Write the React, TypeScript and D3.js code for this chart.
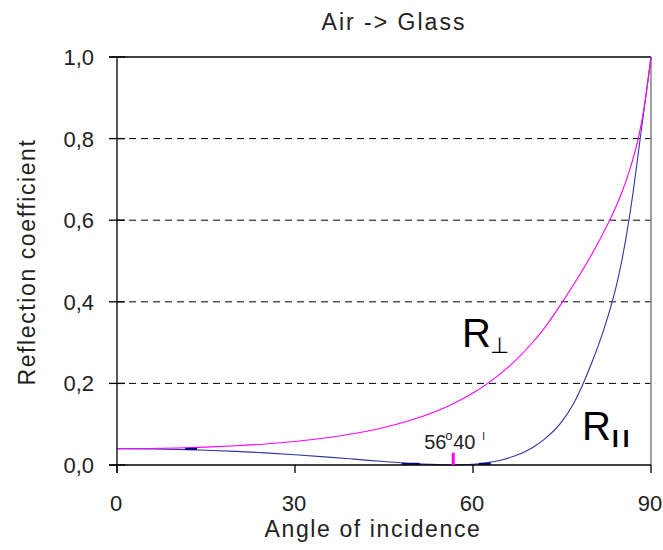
import React from "react";
import * as d3 from "d3";

const angles = [0, 5, 10, 15, 20, 25, 30, 35, 40, 45, 50, 55, 56.3, 60, 62, 65, 67, 70, 72, 75, 77, 80, 82, 84, 85, 86, 87, 88, 89, 90];
const rPerp = [0.04, 0.0404, 0.0417, 0.0438, 0.0471, 0.0516, 0.0577, 0.0661, 0.0772, 0.092, 0.1121, 0.1393, 0.1479, 0.1766, 0.1952, 0.2281, 0.2539, 0.2996, 0.335, 0.398, 0.443, 0.516, 0.57, 0.63, 0.665, 0.705, 0.752, 0.81, 0.89, 1.0];
const rPar = [0.04, 0.0396, 0.0384, 0.0363, 0.0335, 0.0298, 0.0252, 0.02, 0.0143, 0.0085, 0.0033, 0.0002, 0, 0.0018, 0.0047, 0.013, 0.0219, 0.0425, 0.0627, 0.107, 0.152, 0.25, 0.33, 0.43, 0.495, 0.575, 0.67, 0.78, 0.89, 1.0];
const xTicks = [0, 30, 60, 90];
const yTicks = [0, 0.2, 0.4, 0.6, 0.8, 1.0];
const gridTicks = [0.2, 0.4, 0.6, 0.8];
const brewster = 56 + 40 / 60;
const brewsterMark = 0.03;

const W = 663;
const H = 550;
const font = "'Liberation Sans', Arial, sans-serif";
const txt = "#222";

export default function App() {
  const x = d3.scaleLinear().domain([0, 90]).range([117, 651]);
  const y = d3.scaleLinear().domain([0, 1]).range([465, 57]);
  const perpPts: [number, number][] = angles.map((a, i) => [a, rPerp[i]]);
  const parPts: [number, number][] = angles.map((a, i) => [a, rPar[i]]);
  const line = d3
    .line<[number, number]>()
    .x((d) => x(d[0]))
    .y((d) => y(d[1]))
    .curve(d3.curveMonotoneX);
  const fmt = (v: number) => v.toFixed(1).replace(".", ",");
  const bx = x(brewster);

  return (
    <div style={{ position: "absolute", left: 0, top: 0 }}>
      <svg width={W} height={H} style={{ display: "block", background: "#fff" }}>
        {/* grid */}
        {gridTicks.map((t) => (
          <line key={t} x1={x(0)} x2={x(90)} y1={y(t)} y2={y(t)} stroke="#000" strokeWidth={1} strokeDasharray="7,5" />
        ))}
        {/* top border */}
        <line x1={x(0) - 8} x2={x(90)} y1={y(1)} y2={y(1)} stroke="#000" strokeWidth={1.3} />
        {/* right border */}
        <line x1={x(90)} x2={x(90)} y1={y(1)} y2={y(0)} stroke="#888" strokeWidth={1.6} />
        {/* curves */}
        <path d={line(parPts) || ""} fill="none" stroke="#3434a4" strokeWidth={1.1} />
        <path d={line(perpPts) || ""} fill="none" stroke="#ff00ff" strokeWidth={1.1} />
        {/* dark overlap segments near zero */}
        <line x1={x(48)} x2={x(51)} y1={y(0.003)} y2={y(0.003)} stroke="#000080" strokeWidth={2} />
        <line x1={x(61)} x2={x(63)} y1={y(0.003)} y2={y(0.003)} stroke="#000080" strokeWidth={2} />
        <line x1={x(11.5)} x2={x(13.5)} y1={y(0.0395)} y2={y(0.0395)} stroke="#000080" strokeWidth={2} />
        {/* axes */}
        <line x1={x(0)} x2={x(0)} y1={y(1)} y2={y(0) + 8} stroke="#000" strokeWidth={1.3} />
        <line x1={x(0) - 8} x2={x(90)} y1={y(0)} y2={y(0)} stroke="#000" strokeWidth={1.3} />
        {yTicks.map((t) => (
          <g key={t}>
            <line x1={x(0) - 8} x2={x(0) + 8} y1={y(t)} y2={y(t)} stroke="#000" strokeWidth={1.3} />
            <text x={94} y={y(t) + 8} textAnchor="end" fontFamily={font} fontSize={22} fill={txt}>
              {fmt(t)}
            </text>
          </g>
        ))}
        {xTicks.map((t) => (
          <g key={t}>
            <line x1={x(t)} x2={x(t)} y1={y(0)} y2={y(0) + 8} stroke="#000" strokeWidth={1.3} />
            <text x={x(t) - 1} y={511} textAnchor="middle" fontFamily={font} fontSize={22} fill={txt}>
              {t}
            </text>
          </g>
        ))}
        {/* Brewster mark */}
        <line x1={bx} x2={bx} y1={y(0)} y2={y(brewsterMark)} stroke="#ff00ff" strokeWidth={3} />
        <text fontFamily={font} fill={txt}>
          <tspan x={bx - 29} y={449} fontSize={20}>56</tspan>
          <tspan x={bx - 8} y={440} fontSize={13}>o</tspan>
          <tspan x={bx} y={449} fontSize={20}>40</tspan>
          <tspan x={bx + 29} y={440} fontSize={10}>I</tspan>
        </text>
        {/* series labels */}
        <text x={462} y={347} fontFamily={font} fontSize={40} fill="#000">R</text>
        <text x={490} y={353} fontFamily="'DejaVu Sans', sans-serif" fontSize={22} fill="#000">⊥</text>
        <text x={582} y={440} fontFamily={font} fontSize={40} fill="#000">R</text>
        <text x={612} y={447} fontFamily={font} fontSize={24} fill="#000" letterSpacing={4} fontWeight="bold">II</text>
        {/* titles */}
        <text x={394} y={30} textAnchor="middle" fontFamily={font} fontSize={23} letterSpacing={2} fill={txt}>
          Air -&gt; Glass
        </text>
        <text x={373} y={537} textAnchor="middle" fontFamily={font} fontSize={23} letterSpacing={1.6} fill={txt}>
          Angle of incidence
        </text>
        <text
          transform="translate(35,262) rotate(-90)"
          textAnchor="middle"
          fontFamily={font}
          fontSize={23}
          letterSpacing={1.6}
          fill={txt}
        >
          Reflection coefficient
        </text>
      </svg>
    </div>
  );
}
